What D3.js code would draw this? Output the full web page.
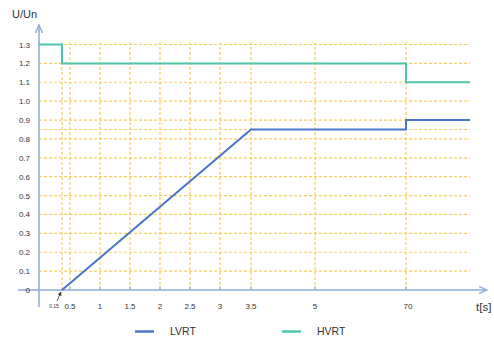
<!DOCTYPE html>
<html>
<head>
<meta charset="utf-8">
<script src="https://cdn.jsdelivr.net/npm/d3@7"></script>
<style>
  body { margin: 0; background: #fff; }
  text { font-family: Arial, "Liberation Sans", sans-serif; fill: #333; }
</style>
</head>
<body>
<div id="chart"></div>
<script>
// time break points on the (non-uniform) x axis
const tTicks = [0.15, 0.5, 1, 1.5, 2, 2.5, 3, 3.5, 5, 70];
const tLabels = ["0.15", "0.5", "1", "1.5", "2", "2.5", "3", "3.5", "5", "70"];
const uTicks = [0, 0.1, 0.2, 0.3, 0.4, 0.5, 0.6, 0.7, 0.8, 0.9, 1.0, 1.1, 1.2, 1.3];
const uLabels = ["0", "0.1", "0.2", "0.3", "0.4", "0.5", "0.6", "0.7", "0.8", "0.9", "1.0", "1.1", "1.2", "1.3"];
const extraGrid = [0.85];
const tEnd = 80;

const lvrtT = [0.15, 3.5, 70, 70, tEnd];
const lvrtU = [0, 0.85, 0.85, 0.9, 0.9];
const hvrtT = [0, 0.15, 0.15, 70, 70, tEnd];
const hvrtU = [1.3, 1.3, 1.2, 1.2, 1.1, 1.1];

const svgWidth = 494, svgHeight = 340;

const svg = d3.select("#chart").append("svg")
  .attr("width", svgWidth)
  .attr("height", svgHeight);

// piecewise x scale, keeps the picture's uneven spacing
const x = d3.scaleLinear()
  .domain([0, 0.15, 0.5, 1, 1.5, 2, 2.5, 3, 3.5, 5, 70, tEnd])
  .range([39, 62, 70, 100, 130, 160, 190, 220, 251, 315, 406, 470]);
const y = d3.scaleLinear().domain([0, 1.3]).range([290, 44.5]);

const gridColor = "#f5cf5e";
const axisColor = "#8eaadb";

// horizontal grid
svg.append("g").selectAll("line")
  .data(uTicks.filter(d => d > 0).concat(extraGrid))
  .enter().append("line")
  .attr("x1", x(0)).attr("x2", x(tEnd))
  .attr("y1", d => y(d)).attr("y2", d => y(d))
  .attr("stroke", gridColor).attr("stroke-width", 1.2)
  .attr("stroke-dasharray", "3,2");

// vertical grid
svg.append("g").selectAll("line")
  .data(tTicks)
  .enter().append("line")
  .attr("x1", d => x(d)).attr("x2", d => x(d))
  .attr("y1", y(0)).attr("y2", y(1.3) - 2)
  .attr("stroke", gridColor).attr("stroke-width", 1.2)
  .attr("stroke-dasharray", "3,2");

// axes with arrows
svg.append("defs").append("marker")
  .attr("id", "arr").attr("viewBox", "0 0 10 10")
  .attr("refX", 9).attr("refY", 5)
  .attr("markerWidth", 6).attr("markerHeight", 6)
  .attr("orient", "auto")
  .append("path").attr("d", "M0,1 L9,5 L0,9").attr("fill", "none")
  .attr("stroke", axisColor).attr("stroke-width", 1.5);

svg.append("line")
  .attr("x1", 18).attr("x2", 487)
  .attr("y1", y(0)).attr("y2", y(0))
  .attr("stroke", axisColor).attr("stroke-width", 1.5)
  .attr("marker-end", "url(#arr)");
svg.append("line")
  .attr("x1", x(0)).attr("x2", x(0))
  .attr("y1", 307).attr("y2", 25)
  .attr("stroke", axisColor).attr("stroke-width", 1.5)
  .attr("marker-end", "url(#arr)");

// small x ticks
svg.append("g").selectAll("line")
  .data(tTicks.slice(1))
  .enter().append("line")
  .attr("x1", d => x(d)).attr("x2", d => x(d))
  .attr("y1", y(0)).attr("y2", y(0) - 4)
  .attr("stroke", axisColor).attr("stroke-width", 1);

// y labels
svg.append("g").selectAll("text")
  .data(uTicks)
  .enter().append("text")
  .attr("x", 30)
  .attr("y", d => y(d) + 3)
  .attr("text-anchor", "end")
  .style("font-size", "8px")
  .text((d, i) => uLabels[i]);

// x labels
svg.append("g").selectAll("text")
  .data(tTicks)
  .enter().append("text")
  .attr("x", (d, i) => i === 0 ? x(d) - 8 : x(d) + (d === 70 ? 2 : 0))
  .attr("y", (d, i) => i === 0 ? 308 : 309)
  .attr("text-anchor", "middle")
  .style("font-size", (d, i) => i === 0 ? "5px" : "8px")
  .text((d, i) => tLabels[i]);

// little pointer arrow to 0.15
svg.append("defs").append("marker")
  .attr("id", "arr2").attr("viewBox", "0 0 10 10")
  .attr("refX", 9).attr("refY", 5)
  .attr("markerWidth", 5).attr("markerHeight", 5)
  .attr("orient", "auto")
  .append("path").attr("d", "M0,0 L10,5 L0,10 z").attr("fill", "#333");
svg.append("line")
  .attr("x1", x(0.15) - 5).attr("y1", y(0) + 11)
  .attr("x2", x(0.15) - 1).attr("y2", y(0) + 2)
  .attr("stroke", "#333").attr("stroke-width", 0.8)
  .attr("marker-end", "url(#arr2)");

// axis titles
svg.append("text").attr("x", 12).attr("y", 18)
  .style("font-size", "11px").text("U/Un");
svg.append("text").attr("x", 476).attr("y", 311)
  .style("font-size", "11.5px").text("t[s]");

// series lines
const line = d3.line().x(d => x(d[0])).y(d => y(d[1]));
const lvrt = lvrtT.map((t, i) => [t, lvrtU[i]]);
const hvrt = hvrtT.map((t, i) => [t, hvrtU[i]]);

svg.append("path").datum(hvrt)
  .attr("d", line).attr("fill", "none")
  .attr("stroke", "#4cc6ae").attr("stroke-width", 2);
svg.append("path").datum(lvrt)
  .attr("d", line).attr("fill", "none")
  .attr("stroke", "#4a74c8").attr("stroke-width", 2);

// legend
const legend = [
  { name: "LVRT", color: "#4a74c8", x: 135 },
  { name: "HVRT", color: "#4cc6ae", x: 282 }
];
const lg = svg.append("g").selectAll("g").data(legend).enter().append("g");
lg.append("line")
  .attr("x1", d => d.x).attr("x2", d => d.x + 19)
  .attr("y1", 331.5).attr("y2", 331.5)
  .attr("stroke", d => d.color).attr("stroke-width", 2.5);
lg.append("text")
  .attr("x", d => d.x + 35).attr("y", 335)
  .style("font-size", "10.5px")
  .text(d => d.name);
</script>
</body>
</html>
